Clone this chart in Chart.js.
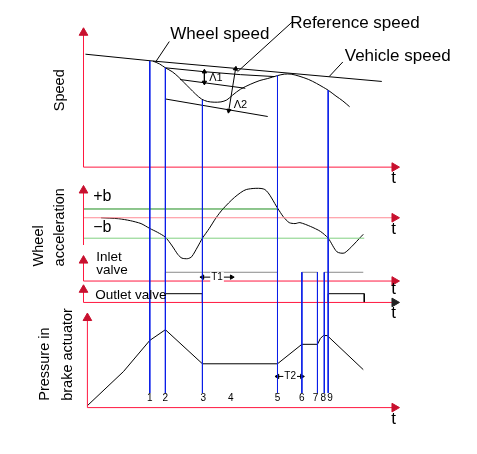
<!DOCTYPE html>
<html><head><meta charset="utf-8">
<script src="https://cdn.jsdelivr.net/npm/chart.js@4/dist/chart.umd.min.js"></script>
<style>html,body{margin:0;padding:0;background:#fff}#wrap{width:477px;height:454px}</style>
</head><body><div id="wrap"><canvas id="c" width="477" height="454"></canvas></div>
<script>
// ---------- values (diagram units: time along x, level downward) ----------
const vehicleSpeed   = [[81,49],[150,56],[385,77]];
const wheelSpeed     = [[150,56],[157,59],[163,63],[170,67],[176,72],[182,78],[188,84],[194,90],[200,95],[206,97.5],[213,98.3],[220,98],[226,96],[232,91],[240,85],[250,80],[260,76],[268,74],[278,71],[285,69.5],[292,69.5],[300,71.5],[310,75],[318,79],[325,83],[330,86],[338,92],[345,97],[352,103]];
const referenceSpeed = [[163,63],[203,67],[240,70],[275,72]];
const lambda1Line    = [[178,75],[245,84]];
const lambda2Line    = [[163,95],[268,113]];
const lambda1Span    = [[203,67],[203,78]];
const lambda2Span    = [[235,64],[228,107]];
const wheelAccel     = [[97,217],[115,218],[127,220],[138,223],[147,228],[155,232],[163,237],[170,246],[176,255],[180,258.5],[186,259],[190,257],[196,247],[201,238],[208,228],[215,217],[222,208],[234,196],[246,188],[265,188],[278,207],[284,216],[290,222],[296,223],[301,222],[312,226],[322,231],[330,238],[339,252],[347,253],[366,234]];
const plusB          = [[79,208],[278,208]];
const zeroAccel      = [[79,217],[398,217]];
const minusB         = [[79,238],[367,238]];
const inletValve     = [[163,282],[163,273],[278,273],[278,282],null,[303,282],[303,273],[319,273],[319,282],null,[326,282],[326,273],[366,273]];
const outletValve    = [[163,304],[163,295],[201,295],[201,304],null,[330,304],[330,295],[367,295],[367,304]];
const brakePressure  = [[83,410],[120,375],[147,343],[163,332],[201,367],[278,367],[303,347],[319,347],[322,341],[325,338],[329,338],[366,373]];
const t1Span         = [[201,278],[231,278]];
const t2Span         = [[278,380],[303,380]];
const phaseLabels    = ['1','2','3','4','5','6','7','8','9'];
const phaseTimes     = [147,163,201,230,278,303,319,326,330];
const phaseTops      = [56,63,96,null,71,273,273,273,86];
const phaseBottom    = 397;
// axes (origin -> arrow tip)
const axesY = [[[79,165],[79,27]],[[79,245],[79,189]],[[79,282],[79,261]],[[79,304],[79,291]],[[83,412],[83,320]]];
const axesX = [[[79,165],[398,165]],[[79,282],[398,282]],[[79,304],[398,304]],[[83,412],[398,412]]];

// ---------- styling ----------
const RED='#ff1840', HEAD='#c8102e', PINK='#ff8a94', DGREEN='#1c8c1c', LGREEN='#80d080', BLUE='#0a1ee8', GRAY='#8a8a8a', BLACK='#000';
const pts = a => a.map(p => p ? {x:p[0], y:p[1]} : {x:null, y:null});
const dirDeg = (a,b) => Math.atan2(b[0]-a[0], -(b[1]-a[1]))*180/Math.PI;
function line(data, color, extra){ return Object.assign({data:pts(data), showLine:true, borderColor:color, backgroundColor:color, borderWidth:1, pointRadius:0, pointHoverRadius:0, fill:false, tension:0, clip:false, spanGaps:false, order:5}, extra||{}); }
function arrow(data, color, headColor, size, both){
  const n=data.length, end=dirDeg(data[n-2],data[n-1]), start=dirDeg(data[1],data[0]);
  return line(data, color, {pointStyle:'triangle', pointRadius:data.map((_,i)=> (i===n-1 || (both && i===0)) ? size : 0),
    pointRotation:data.map((_,i)=> i===0 ? start : end), pointBackgroundColor:headColor, pointBorderColor:headColor, pointBorderWidth:1});
}

const datasets = [];
// phase marker lines (drawn last, on top)
phaseTimes.forEach((t,i)=>{ if(phaseTops[i]!==null) datasets.push(line([[t,phaseTops[i]],[t,phaseBottom]], BLUE, {order:0})); });
// axes
axesY.forEach(a=>datasets.push(arrow(a, RED, HEAD, 5, false)));
axesX.forEach((a,i)=>datasets.push(arrow(a, RED, i===2 ? '#222' : HEAD, 5, false)));
datasets.push(arrow(zeroAccel, PINK, HEAD, 5, false));
// thresholds
datasets.push(line(plusB, DGREEN));
datasets.push(line(minusB, LGREEN));
// curves
datasets.push(line(vehicleSpeed, BLACK));
datasets.push(line(wheelSpeed, BLACK, {tension:0.3}));
datasets.push(line(referenceSpeed, BLACK));
datasets.push(line(lambda1Line, BLACK));
datasets.push(line(lambda2Line, BLACK));
datasets.push(arrow(lambda1Span, BLACK, BLACK, 2.5, true));
datasets.push(arrow(lambda2Span, BLACK, BLACK, 2.5, true));
datasets.push(line(wheelAccel, BLACK, {tension:0.25}));
datasets.push(line(inletValve, GRAY, {order:8}));
datasets.push(line(outletValve, BLACK, {order:8}));
datasets.push(line(brakePressure, BLACK));
datasets.push(arrow(t1Span, BLACK, BLACK, 2.5, true));
datasets.push(arrow(t2Span, BLACK, BLACK, 2.5, true));
// leaders
datasets.push(line([[167,36],[153,57]], BLACK));
datasets.push(line([[293,16],[237,67]], BLACK));
datasets.push(line([[345,57],[331,72]], BLACK));

// ---------- text annotations ----------
const FONT='"Liberation Sans", Arial, Helvetica, sans-serif';
const texts = [
  {s:'Wheel speed', x:168, y:29, size:17},
  {s:'Reference speed', x:291, y:17, size:17},
  {s:'Vehicle speed', x:347, y:51, size:17},
  {s:'Speed', x:55, y:86, size:14.5, rot:true, align:'center'},
  {s:'Wheel', x:33, y:267, size:14.5, rot:true},
  {s:'acceleration', x:55, y:267, size:14.5, rot:true},
  {s:'Pressure in', x:40, y:405, size:14.5, rot:true},
  {s:'brake actuator', x:63, y:405, size:14.5, rot:true},
  {s:'+b', x:89, y:195, size:16},
  {s:'\u2212b', x:89, y:227, size:16},
  {s:'Inlet', x:92, y:258, size:13.5},
  {s:'valve', x:92, y:271, size:13.5},
  {s:'Outlet valve', x:91, y:297, size:13.5},
  {s:'\u039B1', x:208, y:73, size:11},
  {s:'\u039B2', x:233, y:101, size:11},
  {s:'T1', x:216, y:278, size:10, align:'center', bg:true},
  {s:'T2', x:291, y:380, size:10, align:'center', bg:true},
];
['t','t','t','t','t'].forEach((s,i)=>texts.push({s, x:397, y:[177,229,290,315,424][i], size:17, align:'center'}));
const phaseLabelX = [147,163,202,230,278,303,317,325,332];
phaseLabels.forEach((s,i)=>texts.push({s, x:phaseLabelX[i], y:402, size:10, align:'center'}));

const textPlugin = {
  id:'texts',
  afterDatasetsDraw(chart){
    const {ctx, scales:{x:xs, y:ys}} = chart;
    ctx.save();
    texts.forEach(o=>{
      const px = xs.getPixelForValue(o.x), py = ys.getPixelForValue(o.y);
      ctx.font = o.size+'px '+FONT;
      ctx.fillStyle = '#000';
      ctx.textBaseline = 'middle';
      ctx.textAlign = o.align || 'left';
      if(o.bg){ const w=ctx.measureText(o.s).width; ctx.fillStyle='#fff'; ctx.fillRect(px-w/2-1, py-5, w+2, 10); ctx.fillStyle='#000'; }
      if(o.rot){ ctx.save(); ctx.translate(px,py); ctx.rotate(-Math.PI/2); ctx.fillText(o.s,0,0); ctx.restore(); }
      else ctx.fillText(o.s, px, py);
    });
    ctx.restore();
  }
};

new Chart(document.getElementById('c'), {
  type:'scatter',
  data:{datasets},
  options:{
    responsive:false, devicePixelRatio:1, animation:false, events:[],
    layout:{padding:0},
    plugins:{legend:{display:false}, tooltip:{enabled:false}},
    scales:{
      x:{type:'linear', min:-0.5, max:476.5, display:false},
      y:{type:'linear', min:-0.5, max:453.5, reverse:true, display:false}
    }
  },
  plugins:[textPlugin]
});
</script></body></html>
